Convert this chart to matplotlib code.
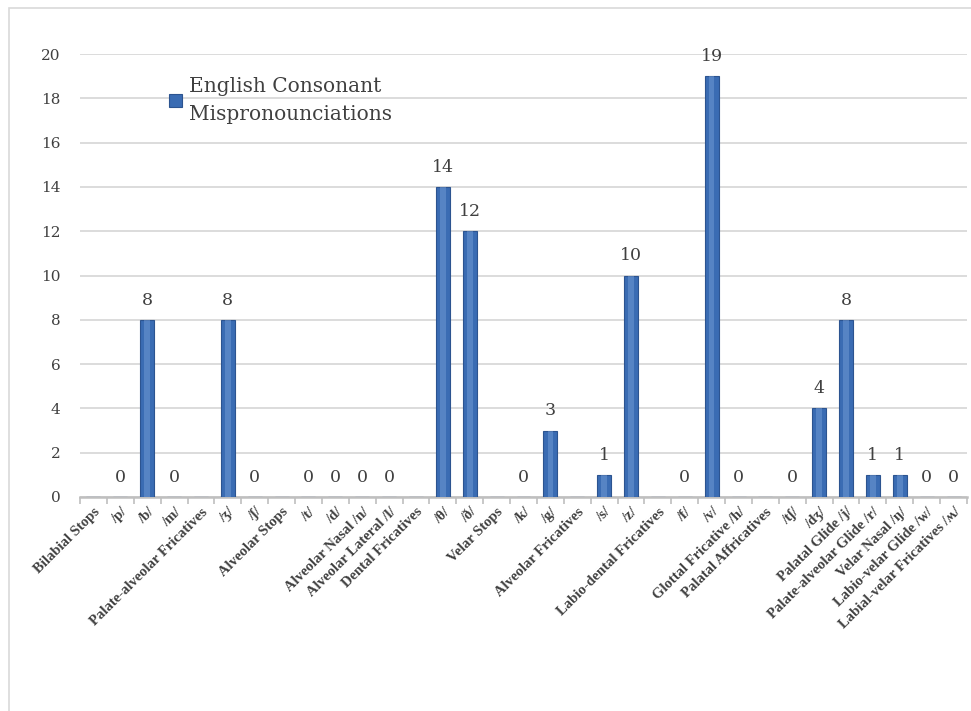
import numpy as np
import matplotlib
matplotlib.use("Agg")
import matplotlib.pyplot as plt
from matplotlib.patches import Rectangle

# categories with group headers (headers have no value)
labels = ["Bilabial Stops", "/p/", "/b/", "/m/", "Palate-alveolar Fricatives", "/ʒ/", "/ʃ/",
          "Alveolar Stops", "/t/", "/d/", "Alveolar Nasal /n/", "Alveolar Lateral /l/",
          "Dental Fricatives", "/θ/", "/ð/", "Velar Stops", "/k/", "/g/",
          "Alveolar Fricatives", "/s/", "/z/", "Labio-dental Fricatives", "/f/", "/v/",
          "Glottal Fricative /h/", "Palatal Affricatives", "/tʃ/", "/dʒ/", "Palatal Glide /j/",
          "Palate-alveolar Glide /r/", "Velar Nasal /ŋ/", "Labio-velar Glide /w/",
          "Labial-velar Fricatives /ʍ/"]
values = [np.nan, 0, 8, 0, np.nan, 8, 0,
          np.nan, 0, 0, 0, 0,
          np.nan, 14, 12, np.nan, 0, 3,
          np.nan, 1, 10, np.nan, 0, 19,
          0, np.nan, 0, 4, 8,
          1, 1, 0,
          0]
series_name = "English Consonant\nMispronounciations"

num_font = "DejaVu Serif"
lab_font = "Liberation Serif"

fig = plt.figure(figsize=(9.71, 7.11), dpi=100)
ax = fig.add_axes([80/971, 1 - 497/711, 887/971, 443/711])

# outer chart border
fig.patches.append(Rectangle((9/971, -0.05), 1.1, 1 - 8/711 + 0.05, transform=fig.transFigure,
                             fill=False, edgecolor="#d9d9d9", linewidth=1.2))

x = np.arange(len(labels))
vals = np.array(values, dtype=float)
bars = ax.bar(x, np.nan_to_num(vals), width=0.52, color="#3a6cb3", edgecolor="#2c5490",
              linewidth=0.8, label=series_name, zorder=3)

# light cylinder highlight
for b, v in zip(bars, vals):
    if np.isnan(v) or v == 0:
        continue
    ax.bar(b.get_x() + b.get_width() * 0.5, v, width=b.get_width() * 0.4,
           color="#7aa3da", alpha=0.45, linewidth=0, zorder=4)

for xi, v in zip(x, vals):
    if np.isnan(v):
        continue
    ax.annotate(f"{int(v)}", (xi, v), xytext=(0, 8), textcoords="offset points",
                ha="center", va="bottom", fontsize=12.5, family=num_font, color="#404040")

ax.set_xlim(-0.5, len(labels) - 0.5)
ax.set_ylim(0, 20)
ax.set_yticks(range(0, 21, 2))
ax.yaxis.grid(True, color="#d9d9d9", linewidth=1.3, zorder=0)
ax.tick_params(axis="y", length=0, pad=14, labelsize=11, labelcolor="#404040")
for t in ax.get_yticklabels():
    t.set_family(num_font)

ax.set_xticks(np.arange(-0.5, len(labels), 1), minor=False)
ax.set_xticklabels([])
ax.set_xticks(x, minor=True)
ax.set_xticklabels(labels, minor=True, rotation=45, ha="right", va="top",
                   rotation_mode="anchor", fontsize=10.5, fontweight="bold",
                   family=lab_font, color="#404040")
ax.tick_params(axis="x", which="major", length=5, color="#bfbfbf", width=1.2)
ax.tick_params(axis="x", which="minor", length=0, pad=6)

for s in ["top", "right", "left"]:
    ax.spines[s].set_visible(False)
ax.spines["bottom"].set_color("#bfbfbf")
ax.spines["bottom"].set_linewidth(1.8)

leg = ax.legend(loc="upper left", bbox_to_anchor=(0.08, 0.99), frameon=False,
                prop={"family": num_font, "size": 14.5}, handlelength=0.65, handleheight=0.65,
                handletextpad=0.35)
for t in leg.get_texts():
    t.set_color("#404040")
    t.set_linespacing(1.6)

fig.savefig("out.png", dpi=100)
